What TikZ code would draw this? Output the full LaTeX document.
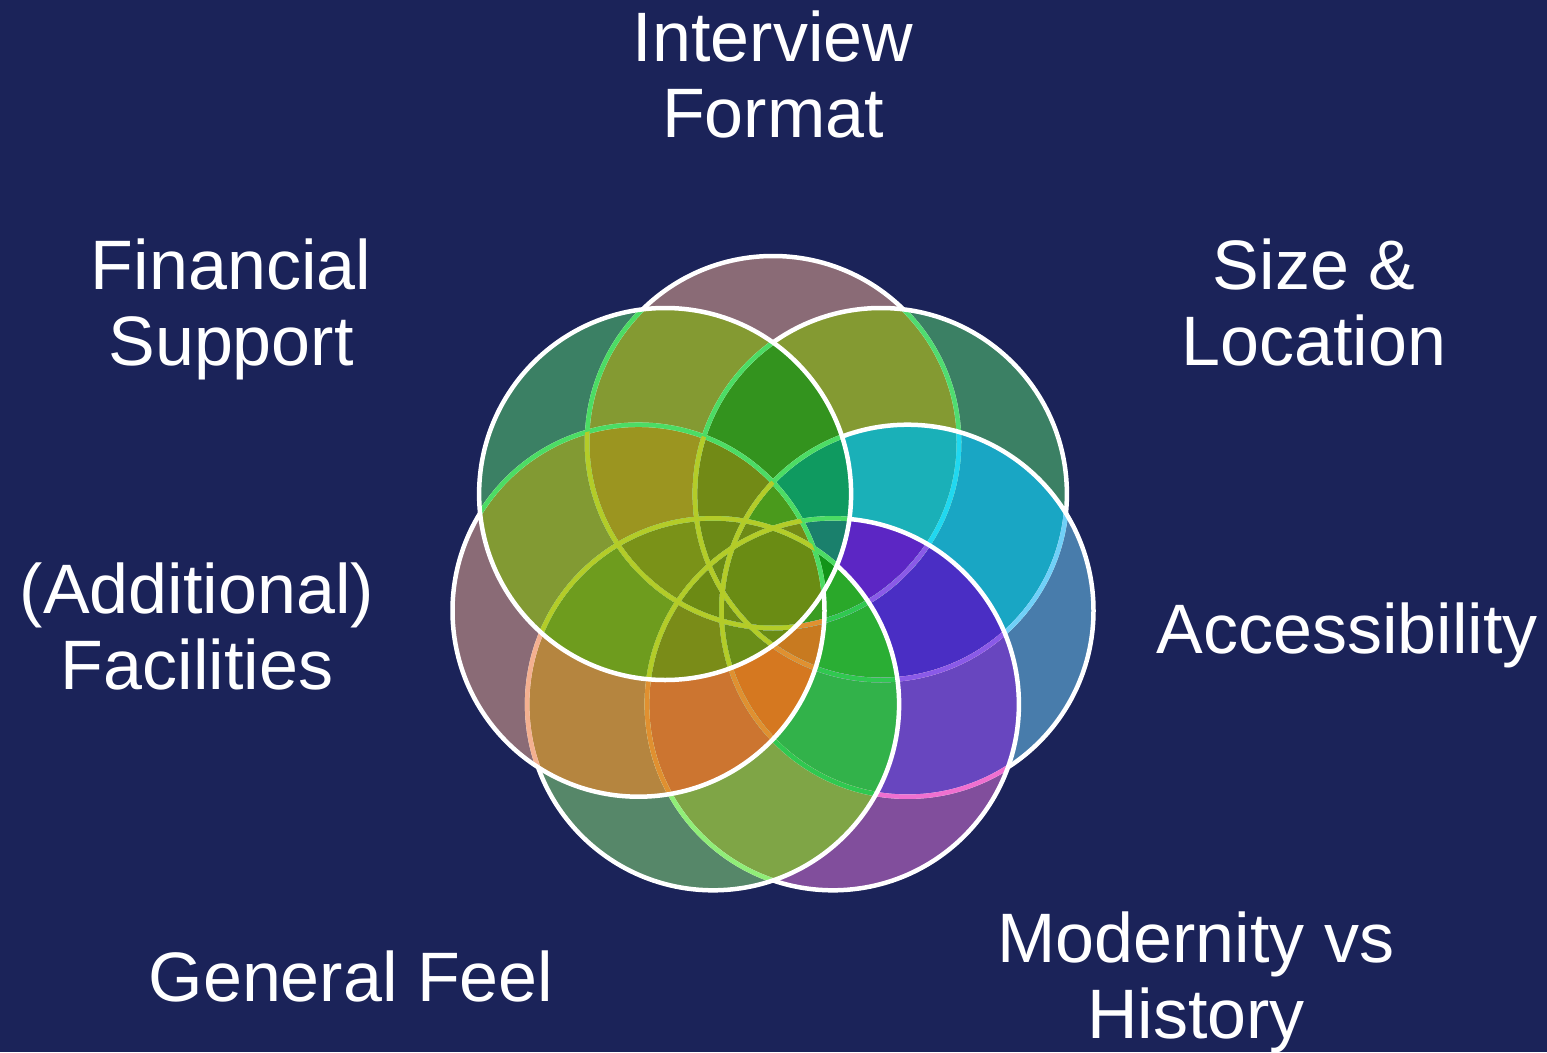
\documentclass[tikz,border=0pt]{standalone}
\usepackage{fontspec}
\setmainfont{Liberation Sans}
\definecolor{bgnavy}{HTML}{1B2359}
\definecolor{tUR}{HTML}{50DC70}
\definecolor{tR}{HTML}{70D0F8}
\definecolor{tRUR}{HTML}{20D8F0}
\definecolor{tLR}{HTML}{F070D0}
\definecolor{tLRR}{HTML}{8A5AE8}
\definecolor{tLL}{HTML}{90EE78}
\definecolor{tLLLR}{HTML}{30C850}
\definecolor{tL}{HTML}{F4B090}
\definecolor{tLLL}{HTML}{E09030}
\definecolor{tUL}{HTML}{4CDC64}
\definecolor{tULL}{HTML}{B4CC28}
\makeatletter
\newcommand\regfill[2]{\begin{scope}\definecolor{rgc}{HTML}{#2}\@for\rcc:=#1\do{\clip (\rcc) circle (186pt);}\fill[rgc] (0,0) rectangle (1547,1052);\end{scope}}
\makeatother
\newcommand\ring[2]{\draw[ring,draw=#2] (#1) circle (186pt);}
\tikzset{
  ring/.style={line width=4.5pt},
  lbl/.style={text=white, font=\fontsize{70}{76}\selectfont, align=center, anchor=base, inner sep=0pt}
}
\begin{document}
\begin{tikzpicture}[x=1pt,y=-1pt]
\useasboundingbox (0,0) rectangle (1547,1052);
\fill[bgnavy] (0,0) rectangle (1547,1052);
\coordinate (T)  at (773,442);
\coordinate (UL) at (665.1,494.0);
\coordinate (L)  at (638.5,610.7);
\coordinate (LL) at (713.1,704.3);
\coordinate (LR) at (832.9,704.3);
\coordinate (R)  at (907.5,610.7);
\coordinate (UR) at (880.9,494.0);
% single
\regfill{T}{8A6B76}
\regfill{UL}{3B8064}
\regfill{L}{8A6B76}
\regfill{LL}{568769}
\regfill{LR}{814E9C}
\regfill{R}{487CAB}
\regfill{UR}{3B8064}
% pairs
\regfill{T,UL}{849A32}
\regfill{UL,L}{829A33}
\regfill{L,LL}{B5853F}
\regfill{LL,LR}{7FA546}
\regfill{LR,R}{6846BF}
\regfill{R,UR}{19A6C4}
\regfill{UR,T}{849A32}
% triples
\regfill{T,UL,L}{9B9520}
\regfill{UL,L,LL}{6E9C1E}
\regfill{L,LL,LR}{CC7530}
\regfill{LL,LR,R}{32B24A}
\regfill{LR,R,UR}{4A2EC4}
\regfill{R,UR,T}{1AB0B8}
\regfill{UR,T,UL}{33931E}
% fours
\regfill{R,UR,T,UL}{0F9A60}
\regfill{UR,T,UL,L}{728A16}
\regfill{T,UL,L,LL}{7A9218}
\regfill{UL,L,LL,LR}{7A8C18}
\regfill{L,LL,LR,R}{D57820}
\regfill{LL,LR,R,UR}{2AAE34}
\regfill{LR,R,UR,T}{5C26C4}
% fives
\regfill{R,UR,T,UL,L}{4A9A1C}
\regfill{UR,T,UL,L,LL}{6C8A16}
\regfill{T,UL,L,LL,LR}{6C8A14}
\regfill{UL,L,LL,LR,R}{6A8E18}
\regfill{L,LL,LR,R,UR}{C87A20}
\regfill{LL,LR,R,UR,T}{2AA82A}
\regfill{LR,R,UR,T,UL}{1A806C}
% sixes
\regfill{UL,L,LL,LR,R,UR}{6A8C14}
\regfill{L,LL,LR,R,UR,T}{3A9C22}
\regfill{LL,LR,R,UR,T,UL}{129418}
\regfill{LR,R,UR,T,UL,L}{748A16}
\regfill{R,UR,T,UL,L,LL}{6E8A16}
\regfill{UR,T,UL,L,LL,LR}{6A8A16}
\regfill{T,UL,L,LL,LR,R}{6C8A16}
% all
\regfill{T,UL,L,LL,LR,R,UR}{6A8C14}
% outlines, stacked T, UR, R, LR, LL, L, UL
\ring{T}{white}
\begin{scope}\clip (UR) circle (186pt); \ring{T}{tUR}\end{scope}
\ring{UR}{white}
\begin{scope}\clip (R) circle (186pt); \ring{T}{tR}\ring{UR}{tR}\end{scope}
\begin{scope}\clip (R) circle (186pt); \clip (UR) circle (186pt); \ring{T}{tRUR}\end{scope}
\ring{R}{white}
\begin{scope}\clip (LR) circle (186pt); \ring{T}{tLR}\ring{UR}{tLR}\ring{R}{tLR}\end{scope}
\begin{scope}\clip (LR) circle (186pt); \clip (R) circle (186pt); \ring{T}{tLRR}\ring{UR}{tLRR}\end{scope}
\ring{LR}{white}
\begin{scope}\clip (LL) circle (186pt); \ring{T}{tLL}\ring{UR}{tLL}\ring{R}{tLL}\ring{LR}{tLL}\end{scope}
\begin{scope}\clip (LL) circle (186pt); \clip (LR) circle (186pt); \ring{T}{tLLLR}\ring{UR}{tLLLR}\ring{R}{tLLLR}\end{scope}
\ring{LL}{white}
\begin{scope}\clip (L) circle (186pt); \ring{T}{tL}\ring{UR}{tL}\ring{R}{tL}\ring{LR}{tL}\ring{LL}{tL}\end{scope}
\begin{scope}\clip (L) circle (186pt); \clip (LL) circle (186pt); \ring{T}{tLLL}\ring{UR}{tLLL}\ring{R}{tLLL}\ring{LR}{tLLL}\end{scope}
\ring{L}{white}
\begin{scope}\clip (UL) circle (186pt); \ring{T}{tUL}\ring{UR}{tUL}\ring{R}{tUL}\ring{LR}{tUL}\ring{LL}{tUL}\ring{L}{tUL}\end{scope}
\begin{scope}\clip (UL) circle (186pt); \clip (L) circle (186pt); \ring{T}{tULL}\ring{UR}{tULL}\ring{R}{tULL}\ring{LR}{tULL}\ring{LL}{tULL}\end{scope}
\ring{UL}{white}
% labels (base anchor = baseline of the last line)
\node[lbl] (interview) at (773,137) {Interview\\Format};
\node[lbl] (financial) at (231,365) {Financial\\Support};
\node[lbl] (size) at (1314,365) {Size \&\\Location};
\node[lbl] (facilities) at (197,689) {(Additional)\\Facilities};
\node[lbl] (access) at (1347,653) {Accessibility};
\node[lbl] (modern) at (1196,1038) {Modernity vs\\History};
\node[lbl] (feel) at (351,1001) {General Feel};
\end{tikzpicture}
\end{document}
